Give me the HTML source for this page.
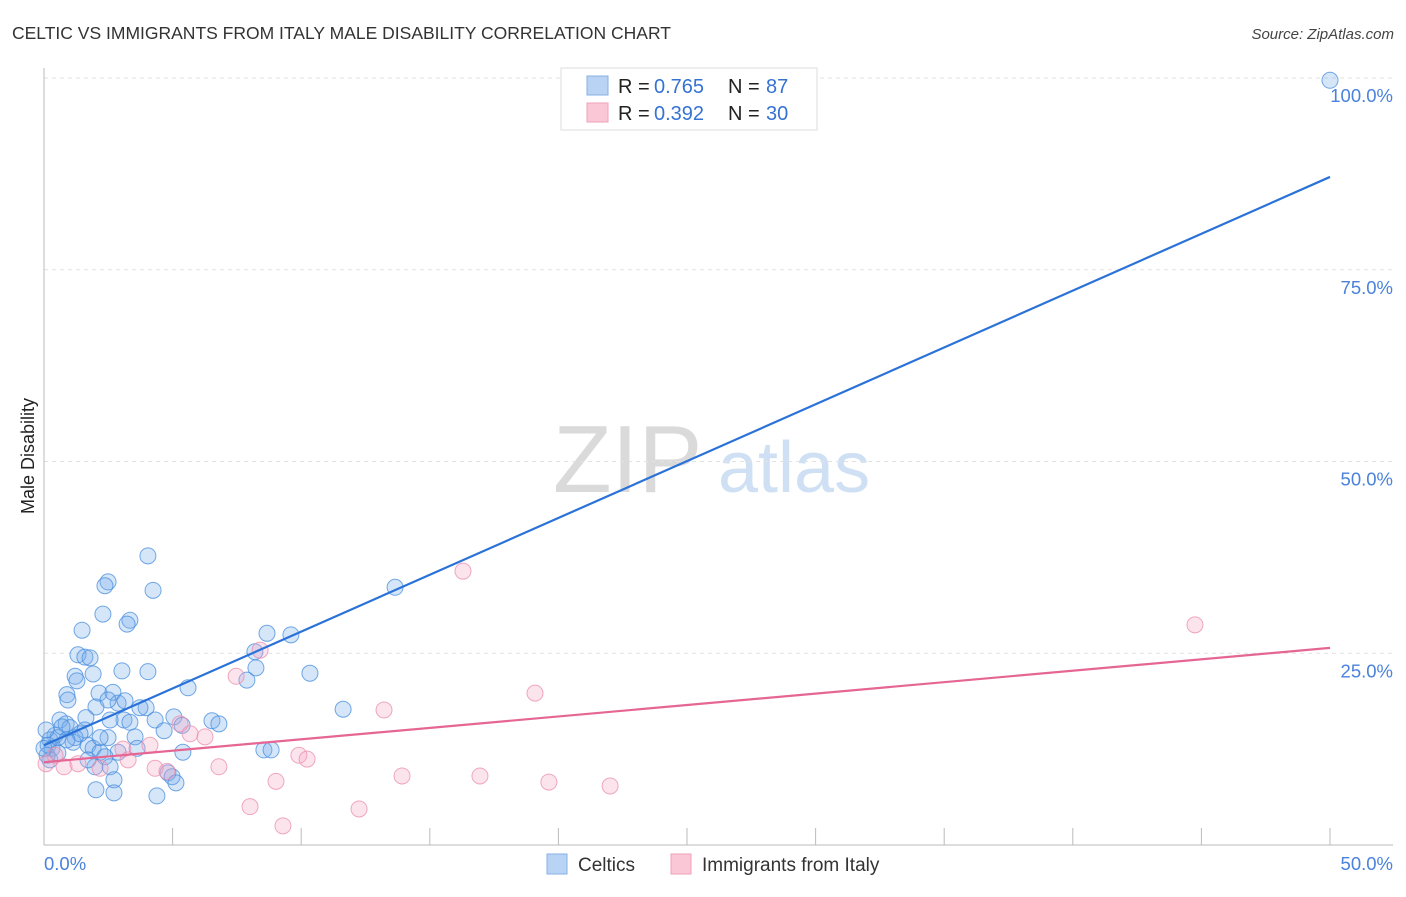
<!DOCTYPE html>
<html><head><meta charset="utf-8"><style>
body{margin:0;background:#fff;font-family:"Liberation Sans",sans-serif;}
svg text{font-family:"Liberation Sans",sans-serif;}
</style></head><body>
<svg id="chart" width="1406" height="892" xmlns="http://www.w3.org/2000/svg">
<text x="12" y="39" font-size="17.5" fill="#333">CELTIC VS IMMIGRANTS FROM ITALY MALE DISABILITY CORRELATION CHART</text>
<text x="1394" y="39" font-size="15" fill="#444" font-style="italic" text-anchor="end">Source: ZipAtlas.com</text>
<g>
<text x="553" y="492" font-size="96" fill="#dadada" font-family="Liberation Serif">ZIP</text>
<text x="718" y="492" font-size="72" fill="#cfe0f4">atlas</text>
</g>
<g id="grid"></g>
<g id="axes"></g>
<g id="pts"></g>
<g id="trends"></g>
<text transform="translate(34,456) rotate(-90)" font-size="18" fill="#222" text-anchor="middle">Male Disability</text>
<g>
<rect x="561" y="68" width="256" height="62" fill="#fff" stroke="#ddd"/>
<rect x="587" y="76" width="21" height="19" fill="#b8d3f4" stroke="#86b2e6"/>
<rect x="587" y="103" width="21" height="19" fill="#fac7d6" stroke="#f0a0ba"/>
<text y="93" font-size="20" fill="#222"><tspan x="618">R =</tspan><tspan x="654" fill="#3572d4">0.765</tspan><tspan x="728">N =</tspan><tspan x="766" fill="#3572d4">87</tspan></text>
<text y="120" font-size="20" fill="#222"><tspan x="618">R =</tspan><tspan x="654" fill="#3572d4">0.392</tspan><tspan x="728">N =</tspan><tspan x="766" fill="#3572d4">30</tspan></text>
</g>
<g>
<rect x="547" y="854" width="20" height="20" fill="#b8d3f4" stroke="#86b2e6"/>
<text x="578" y="871" font-size="19" fill="#333">Celtics</text>
<rect x="671" y="854" width="20" height="20" fill="#fac7d6" stroke="#f0a0ba"/>
<text x="702" y="871" font-size="19" fill="#333">Immigrants from Italy</text>
</g>
</svg>
<script>
const yTicks=[100,75,50,25];
const yTickLabels=["100.0%","75.0%","50.0%","25.0%"];
const xTickLabels=["0.0%","50.0%"];
const celticX=[4.04,4.24,2.49,2.37,2.29,3.34,3.23,1.48,1.32,1.59,1.79,1.21,1.28,3.03,4.04,1.91,0.89,0.93,2.14,2.68,2.88,2.02,2.49,5.6,3.97,3.11,3.34,1.63,0.62,0.86,1.01,1.59,0.43,0.23,0.16,0.31,0.54,1.21,1.13,0.70,2.49,3.54,1.71,1.91,2.18,2.88,2.37,3.62,4.32,4.67,5.05,5.37,6.53,6.80,5.40,1.98,2.57,2.72,2.02,2.72,4.39,4.82,4.98,5.13,7.89,8.24,8.20,8.67,9.60,10.34,11.63,13.65,8.55,8.83,0.12,0.23,0.08,50.0,0.54,1.40,0.0,3.73,3.15,2.57,1.71,0.89,2.18];
const celticY=[37.7,33.2,34.3,33.8,30.1,29.3,28.8,28.0,24.8,24.5,24.4,22.0,21.4,22.7,22.6,22.3,19.6,18.9,19.8,19.9,18.5,18.0,18.9,20.5,17.9,16.3,16.0,16.6,16.3,15.8,15.3,15.0,14.3,13.7,13.0,12.6,14.0,14.0,13.4,15.4,14.0,14.1,13.0,12.6,12.1,12.1,11.5,12.6,16.3,14.9,16.7,15.6,16.2,15.8,12.1,10.2,10.2,8.5,7.2,6.8,6.4,9.4,8.9,8.1,21.5,23.1,25.2,27.6,27.4,22.4,17.7,33.6,12.4,12.4,11.7,11.1,15.0,99.7,12.0,14.5,12.6,17.9,18.8,16.3,11.1,13.7,14.0];
const italyX=[16.29,44.75,19.09,13.22,8.40,7.47,5.29,5.68,6.26,4.12,3.07,3.27,4.32,4.78,6.80,9.91,10.23,13.92,16.95,19.63,22.01,9.02,8.01,9.29,12.25,0.08,0.78,1.32,2.18,0.43];
const italyY=[35.7,28.7,19.8,17.6,25.4,22.0,15.8,14.5,14.1,13.0,12.5,11.1,10.0,9.6,10.2,11.7,11.2,9.0,9.0,8.2,7.7,8.3,5.0,2.5,4.7,10.6,10.2,10.6,10.0,11.7];
const celticTrend=[13.0,87.1];
const italyTrend=[10.8,25.7];
const NS="http://www.w3.org/2000/svg";
const sx=v=>44+v*25.72, sy=v=>845-v*7.67;
function mk(tag,attrs,parent){const e=document.createElementNS(NS,tag);for(const k in attrs)e.setAttribute(k,attrs[k]);document.getElementById(parent).appendChild(e);return e;}
yTicks.forEach((t,i)=>{
 const l=mk('line',{x1:44,x2:1393,y1:sy(t),y2:sy(t),stroke:'#e2e2e2','stroke-dasharray':'4,4'},'grid');
 
 
 const tx=mk('text',{x:1393,y:sy(t)+24,'font-size':18.5,fill:'#4a82dc','text-anchor':'end'},'grid');
 tx.textContent=yTickLabels[i];
 
 
});
let a=mk('line',{x1:44,x2:44,y1:68,y2:845,stroke:'#bbb'},'axes');


a=mk('line',{x1:44,x2:1393,y1:845,y2:845,stroke:'#bbb'},'axes');


for(let i=1;i<=10;i++){const t=mk('line',{x1:sx(i*5),x2:sx(i*5),y1:828,y2:845,stroke:'#bbb'},'axes');
 
 }
[0,50].forEach((v,i)=>{const t=mk('text',{x:i?1393:44,y:870,'font-size':18.5,fill:'#4a82dc','text-anchor':i?'end':'start'},'axes');t.textContent=xTickLabels[i];
 
 });
celticX.forEach((x,i)=>{const c=mk('circle',{cx:sx(x),cy:sy(celticY[i]),r:8,fill:'rgba(120,172,235,0.3)',stroke:'rgba(70,140,220,0.75)','stroke-width':1},'pts');
 
 });
italyX.forEach((x,i)=>{const c=mk('circle',{cx:sx(x),cy:sy(italyY[i]),r:8,fill:'rgba(245,165,195,0.3)',stroke:'rgba(235,140,175,0.75)','stroke-width':1},'pts');
 
 });
let tl=mk('line',{x1:sx(0),y1:sy(celticTrend[0]),x2:sx(50),y2:sy(celticTrend[1]),stroke:'#2a72d8','stroke-width':2.2},'trends');


tl=mk('line',{x1:sx(0),y1:sy(italyTrend[0]),x2:sx(50),y2:sy(italyTrend[1]),stroke:'#e56693','stroke-width':2.2},'trends');


</script>
</body></html>
